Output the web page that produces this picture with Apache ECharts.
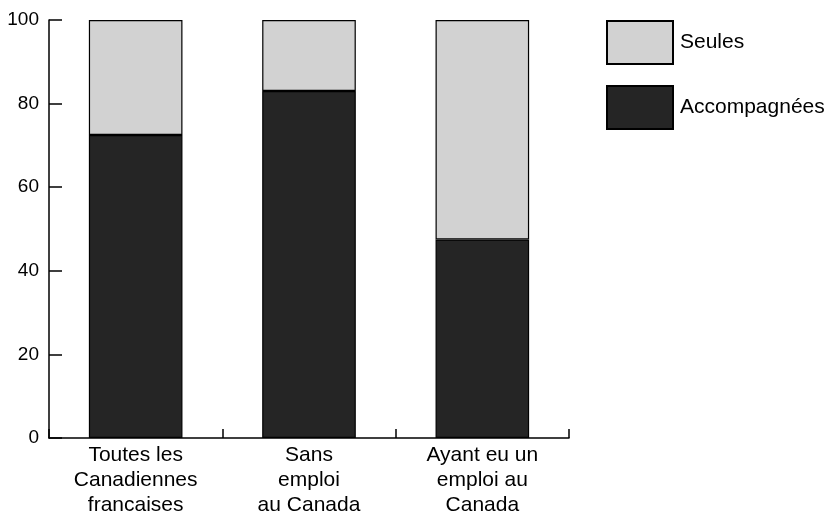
<!DOCTYPE html>
<html>
<head>
<meta charset="utf-8">
<script src="https://cdn.jsdelivr.net/npm/echarts@6/dist/echarts.min.js"></script>
<style>
  html, body { margin: 0; padding: 0; background: #fff; }
  #chart { width: 828px; height: 514px; }
</style>
</head>
<body>
<div id="chart"></div>
<script>
// données (%)
const categories = ['Toutes les\nCanadiennes\nfrancaises', 'Sans\nemploi\nau Canada', 'Ayant eu un\nemploi au\nCanada'];
const accompagnees = [72.5, 83, 47.5];
const seules = [27.5, 17, 52.5];
const yTicks = [0, 20, 40, 60, 80, 100];

const chart = echarts.init(document.getElementById('chart'));

const font = 'Liberation Sans, Arial, Helvetica, sans-serif';

const option = {
  backgroundColor: '#fff',
  animation: false,
  textStyle: { fontFamily: font },
  grid: { left: 49, right: 259, top: 20, bottom: 76, containLabel: false, outerBoundsMode: 'none' },
  legend: {
    orient: 'vertical',
    left: 606,
    top: 20,
    padding: 0,
    itemWidth: 66,
    itemHeight: 43,
    itemGap: 20,
    icon: 'rect',
    textStyle: { fontSize: 21, color: '#000', fontFamily: font, padding: [0, 0, 0, 2] },
    data: ['Seules', 'Accompagnées']
  },
  xAxis: {
    type: 'category',
    data: categories,
    axisLine: { lineStyle: { color: '#000', width: 1.5 } },
    axisTick: { show: true, alignWithLabel: false, inside: true, length: 9, lineStyle: { color: '#000', width: 1.5 } },
    axisLabel: {
      color: '#000',
      fontSize: 21,
      lineHeight: 25,
      margin: 5,
      fontFamily: font
    }
  },
  yAxis: {
    type: 'value',
    min: yTicks[0],
    max: yTicks[yTicks.length - 1],
    interval: 20,
    splitLine: { show: false },
    axisLine: { show: true, lineStyle: { color: '#000', width: 1.5 } },
    axisTick: { show: true, inside: true, length: 13, lineStyle: { color: '#000', width: 1.5 } },
    axisLabel: { color: '#000', fontSize: 19, margin: 10, fontFamily: font }
  },
  series: [
    {
      name: 'Accompagnées',
      type: 'bar',
      stack: 'total',
      barWidth: '54%',
      data: accompagnees,
      itemStyle: { color: '#252525', borderColor: '#000', borderWidth: 1.2 }
    },
    {
      name: 'Seules',
      type: 'bar',
      stack: 'total',
      barWidth: '54%',
      data: seules,
      itemStyle: { color: '#d2d2d2', borderColor: '#000', borderWidth: 1.2 }
    }
  ]
};

chart.setOption(option);
</script>
</body>
</html>
